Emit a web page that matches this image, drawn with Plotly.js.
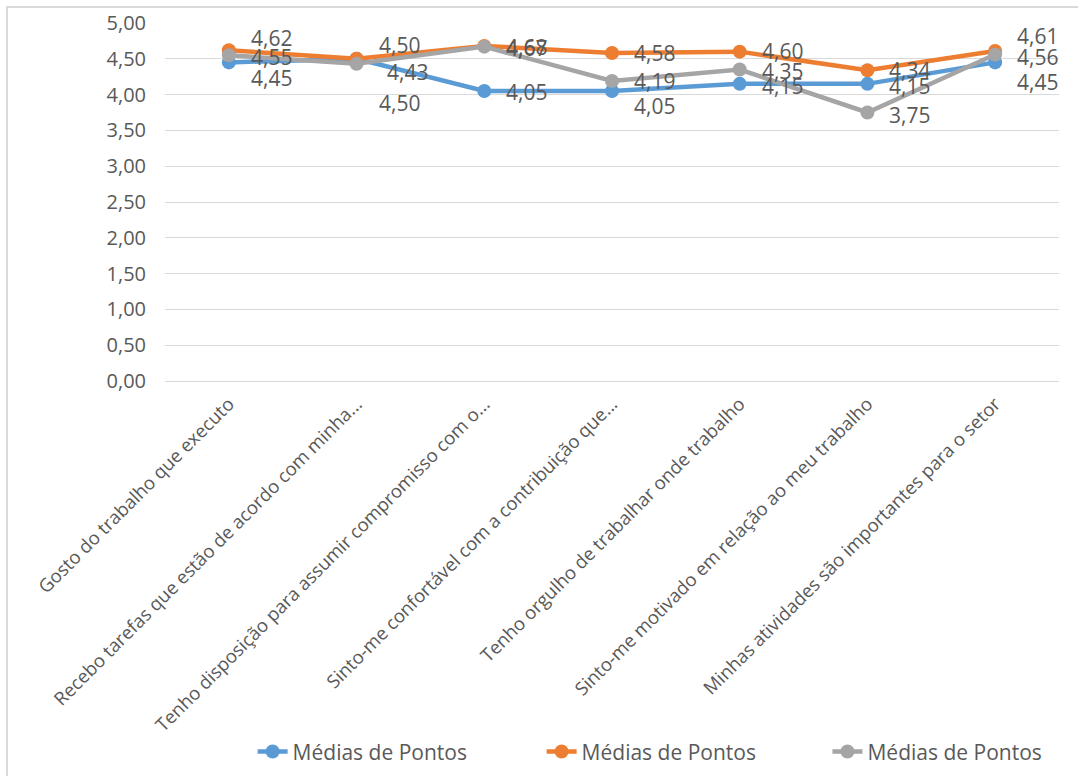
<!DOCTYPE html>
<html>
<head>
<meta charset="utf-8">
<script src="https://cdn.plot.ly/plotly-3.0.1.min.js"></script>
<style>
  html, body { margin: 0; padding: 0; background: #ffffff; }
  #wrap { position: relative; width: 1078px; height: 776px; overflow: hidden; }
  #chart { width: 1078px; height: 776px; }
  #frame { position: absolute; left: 6px; top: 6px; width: 1200px; height: 900px;
           border-top: 2px solid #d9d9d9; border-left: 2px solid #d9d9d9; pointer-events: none; }
</style>
</head>
<body>
<div id="wrap">
  <div id="chart"></div>
  <div id="frame"></div>
</div>
<script>
// ---- data ----
const categories = [
  "Gosto do trabalho que executo",
  "Recebo tarefas que estão de acordo com minha...",
  "Tenho disposição para assumir compromisso com o...",
  "Sinto-me confortável com a contribuição que...",
  "Tenho orgulho de trabalhar onde trabalho",
  "Sinto-me motivado em relação ao meu trabalho",
  "Minhas atividades são importantes para o setor"
];
const seriesNames = ["Médias de Pontos", "Médias de Pontos", "Médias de Pontos"];
const blueValues   = [4.45, 4.50, 4.05, 4.05, 4.15, 4.15, 4.45];
const orangeValues = [4.62, 4.50, 4.68, 4.58, 4.60, 4.34, 4.61];
const grayValues   = [4.55, 4.43, 4.67, 4.19, 4.35, 3.75, 4.56];
const yTickValues  = [0, 0.5, 1, 1.5, 2, 2.5, 3, 3.5, 4, 4.5, 5];

// ---- styling (label offsets in pixels) ----
const colors = ["#5B9BD5", "#ED7D31", "#A5A5A5"];
const legendIds = ["legend", "legend", "legend2"];
const labelYShift = [
  [-16, -44, -1, -15, -2, -2, -20],
  [ 12,  14, -1,   0,  1,  0,  15],
  [ -2,  -8, -1,   0, -1, -2,  -2]
];
const labelXShift = [
  [20, 20, 20, 20, 20, 20, 20],
  [20, 20, 20, 20, 20, 20, 20],
  [20, 28, 20, 20, 20, 20, 20]
];

const allValues = [blueValues, orangeValues, grayValues];
const fontFam = "'Open Sans', 'Liberation Sans', sans-serif";
const textColor = "#595959";

const traces = allValues.map((vals, s) => ({
  type: "scatter",
  mode: "lines+markers",
  x: categories,
  y: vals,
  name: seriesNames[s],
  legend: legendIds[s],
  line: { color: colors[s], width: 4.5 },
  marker: { color: colors[s], size: 14 },
  hoverinfo: "skip"
}));

const fmt = v => v.toFixed(2).replace(".", ",");
const annotations = [];
allValues.forEach((vals, s) => {
  vals.forEach((v, i) => {
    annotations.push({
      x: i, y: v, xref: "x", yref: "y",
      text: fmt(v),
      showarrow: false,
      xanchor: "left", yanchor: "middle",
      xshift: labelXShift[s][i], yshift: labelYShift[s][i],
      font: { family: fontFam, size: 21, color: textColor }
    });
  });
});

const legendFont = { family: fontFam, size: 21, color: textColor };

const layout = {
  width: 1078, height: 776,
  margin: { l: 165, r: 19, t: 23, b: 395, autoexpand: false },
  paper_bgcolor: "rgba(0,0,0,0)",
  plot_bgcolor: "#ffffff",
  separators: ",.",
  showlegend: true,
  font: { family: fontFam, color: textColor },
  xaxis: {
    type: "category",
    range: [-0.5, 6.5],
    tickangle: -45,
    automargin: false,
    showgrid: false,
    zeroline: false,
    showline: true,
    linecolor: "#d9d9d9",
    linewidth: 1,
    ticks: "",
    ticklabelstandoff: 4,
    tickfont: { family: fontFam, size: 18.5, color: textColor },
    fixedrange: true
  },
  yaxis: {
    range: [0, 5],
    tickvals: yTickValues,
    tickformat: ".2f",
    automargin: false,
    showgrid: true,
    gridcolor: "#d9d9d9",
    gridwidth: 1,
    zeroline: false,
    showline: false,
    ticks: "",
    ticklabelstandoff: 18,
    tickfont: { family: fontFam, size: 20, color: textColor },
    fixedrange: true
  },
  legend: {
    orientation: "h",
    x: 0.098, xanchor: "left",
    y: -1.036, yanchor: "middle",
    entrywidth: 244, entrywidthmode: "pixels",
    font: legendFont,
    bgcolor: "rgba(0,0,0,0)"
  },
  legend2: {
    orientation: "h",
    x: 0.741, xanchor: "left",
    y: -1.036, yanchor: "middle",
    font: legendFont,
    bgcolor: "rgba(0,0,0,0)"
  },
  annotations: annotations
};

Plotly.newPlot("chart", traces, layout, { displayModeBar: false, staticPlot: true });
</script>
</body>
</html>
